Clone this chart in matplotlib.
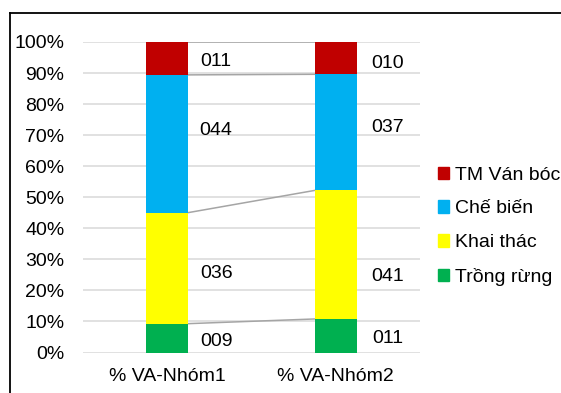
import matplotlib.pyplot as plt
from matplotlib.lines import Line2D
from matplotlib.patches import Patch
import numpy as np

plt.rcParams['font.family'] = ['Liberation Sans', 'DejaVu Sans']

groups = ['% VA-Nhóm1', '% VA-Nhóm2']
series = ['Trồng rừng', 'Khai thác', 'Chế biến', 'TM Ván bóc']
colors = ['#00B050', '#FFFF00', '#00B0F0', '#C00000']
trong_rung = [9.3, 10.8]
khai_thac = [35.8, 41.4]
che_bien = [44.4, 37.4]
tm_van_boc = [10.6, 10.4]

vals = np.array([trong_rung, khai_thac, che_bien, tm_van_boc])
pct = vals / vals.sum(axis=0) * 100
# manual nudges of the data labels (percent units), like the moved labels in Excel
label_dy = [[-1.0, -0.8], [-1.8, -7.0], [4.4, 1.7], [-1.1, -1.6]]

fs = 14
fig = plt.figure(figsize=(5.61, 3.93), dpi=100)
ax = fig.add_axes([83 / 561, 1 - 352.5 / 393, 337 / 561, 310.5 / 393])

x = np.arange(len(groups))
w = 0.25
bottom = np.zeros(len(groups))
for i, s in enumerate(series):
    ax.bar(x, pct[i], w, bottom=bottom, color=colors[i], zorder=3)
    for j in range(len(groups)):
        ax.text(x[j] + 0.29 + 0.02 * j, bottom[j] + pct[i][j] / 2 + label_dy[i][j],
                f'{vals[i][j]:03.0f}', ha='center', va='center', fontsize=fs, zorder=4)
    bottom = bottom + pct[i]
    # series lines between the bars
    ax.plot([x[0] + w / 2, x[1] - w / 2], [bottom[0], bottom[1]],
            color='#A5A5A5', lw=1.1, zorder=2)

ax.set_xlim(-0.5, 1.5)
ax.set_ylim(0, 100)
ax.set_yticks(range(0, 101, 10))
ax.set_yticklabels([f'{v}%' for v in range(0, 101, 10)], fontsize=fs)
ax.set_xticks(x)
ax.set_xticklabels(groups, fontsize=fs)
ax.tick_params(length=0)
ax.tick_params(axis='y', pad=13.5)
ax.tick_params(axis='x', pad=11.5)
ax.grid(axis='y', color='#D9D9D9', lw=1.1, zorder=0)
for sp in ax.spines.values():
    sp.set_visible(False)

handles = [Patch(color=colors[i], label=series[i]) for i in range(3, -1, -1)]
fig.legend(handles=handles, loc='upper left', bbox_to_anchor=(428 / 561, 1 - 157 / 393),
           frameon=False, fontsize=fs, handlelength=0.6, handleheight=0.6,
           handletextpad=0.3, labelspacing=0.86, borderpad=0)

# chart frame (cut off at right and bottom)
fig.add_artist(Line2D([10 / 561, 1.01], [1 - 13 / 393] * 2, color='black', lw=1.3))
fig.add_artist(Line2D([10 / 561] * 2, [1 - 13 / 393, -0.01], color='black', lw=1.3))

fig.savefig('out.png', dpi=100)
